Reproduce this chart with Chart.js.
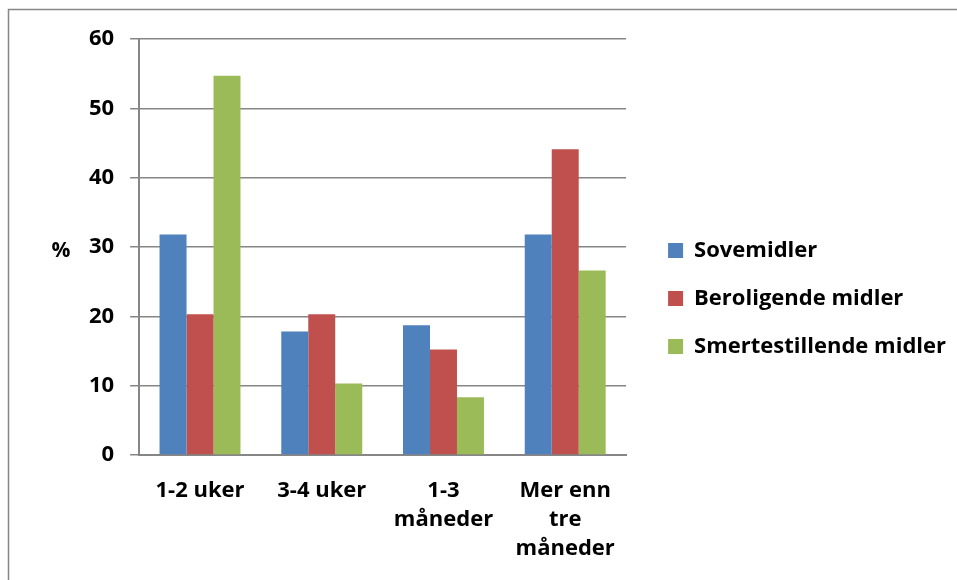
<!DOCTYPE html>
<html>
<head>
<meta charset="utf-8">
<script src="https://cdn.jsdelivr.net/npm/chart.js@4/dist/chart.umd.min.js"></script>
<style>
    html, body { margin: 0; padding: 0; background: #ffffff; }
    #wrap { width: 957px; height: 580px; position: relative; }
</style>
</head>
<body>
<div id="wrap"><canvas id="durationChart"></canvas></div>
<script>
// Categories (x axis) and series values, in percent
const categories = ["1-2 uker", "3-4 uker", ["1-3", "måneder"], ["Mer enn", "tre", "måneder"]];
const sovemidler = [31.8, 17.8, 18.7, 31.8];
const beroligende = [20.3, 20.3, 15.2, 44.1];
const smertestillende = [54.7, 10.3, 8.3, 26.6];
const yTicks = [0, 10, 20, 30, 40, 50, 60];

const fontFamily = "'Open Sans', sans-serif";
const textFont = { family: fontFamily, size: 22, weight: "bold" };
const gridColor = "#868686";

// Frame along the top and left edge of the chart object
const framePlugin = {
    id: "frame",
    beforeDraw(chart) {
        const ctx = chart.ctx;
        ctx.save();
        ctx.strokeStyle = gridColor;
        ctx.lineWidth = 1.5;
        ctx.beginPath();
        ctx.moveTo(8.5, chart.height);
        ctx.lineTo(8.5, 9.5);
        ctx.lineTo(chart.width, 9.5);
        ctx.stroke();
        ctx.restore();
    }
};

// Unrotated "%" axis title left of the tick labels
const percentTitle = {
    id: "percentTitle",
    afterDraw(chart) {
        const ctx = chart.ctx;
        const area = chart.chartArea;
        ctx.save();
        ctx.font = "bold 21px " + fontFamily;
        ctx.fillStyle = "#000000";
        ctx.textAlign = "center";
        ctx.textBaseline = "middle";
        ctx.fillText("%", 61, (area.top + area.bottom) / 2 + 4);
        ctx.restore();
    }
};

// Legend block sits a little higher than the plain vertical centering
const legendLift = {
    id: "legendLift",
    afterLayout(chart) {
        chart.legend.top -= 9;
        chart.legend.bottom -= 9;
    }
};

function makeSeries(label, values, color) {
    return {
        label: label,
        data: values,
        backgroundColor: color,
        borderWidth: 0,
        categoryPercentage: 0.665,
        barPercentage: 1.0
    };
}

function buildChart() {
    return new Chart(document.getElementById("durationChart"), {
        type: "bar",
        data: {
            labels: categories,
            datasets: [
                makeSeries("Sovemidler", sovemidler, "#4F81BD"),
                makeSeries("Beroligende midler", beroligende, "#C0504D"),
                makeSeries("Smertestillende midler", smertestillende, "#9BBB59")
            ]
        },
        options: {
            responsive: true,
            maintainAspectRatio: false,
            animation: false,
            layout: {
                padding: { left: 73, right: 1, top: 39, bottom: 4 }
            },
            plugins: {
                tooltip: { enabled: false },
                legend: {
                    position: "right",
                    maxWidth: 400,
                    labels: {
                        boxWidth: 15,
                        boxHeight: 15,
                        padding: 26,
                        color: "#000000",
                        font: textFont
                    }
                }
            },
            scales: {
                x: {
                    grid: { display: false },
                    border: { display: true, color: gridColor, width: 2 },
                    ticks: {
                        color: "#000000",
                        padding: 13,
                        maxRotation: 0,
                        autoSkip: false,
                        font: Object.assign({}, textFont, { lineHeight: 1.32 })
                    }
                },
                y: {
                    min: 0,
                    max: 60,
                    afterBuildTicks(axis) {
                        axis.ticks = yTicks.map(v => ({ value: v }));
                    },
                    grid: {
                        color: gridColor,
                        lineWidth: 1.5,
                        tickLength: 9
                    },
                    border: { display: true, color: gridColor, width: 2 },
                    ticks: {
                        color: "#000000",
                        padding: 16,
                        font: textFont
                    }
                },
                // empty strip between the plot and the legend
                gap: {
                    type: "linear",
                    position: "right",
                    grid: { display: false },
                    border: { display: false },
                    ticks: { display: false },
                    afterFit(scale) {
                        scale.width = 16;
                    }
                }
            }
        },
        plugins: [framePlugin, percentTitle, legendLift]
    });
}

// Make sure the bold face is ready before text gets measured
document.fonts.load("bold 22px 'Open Sans'").then(buildChart, buildChart);
</script>
</body>
</html>
